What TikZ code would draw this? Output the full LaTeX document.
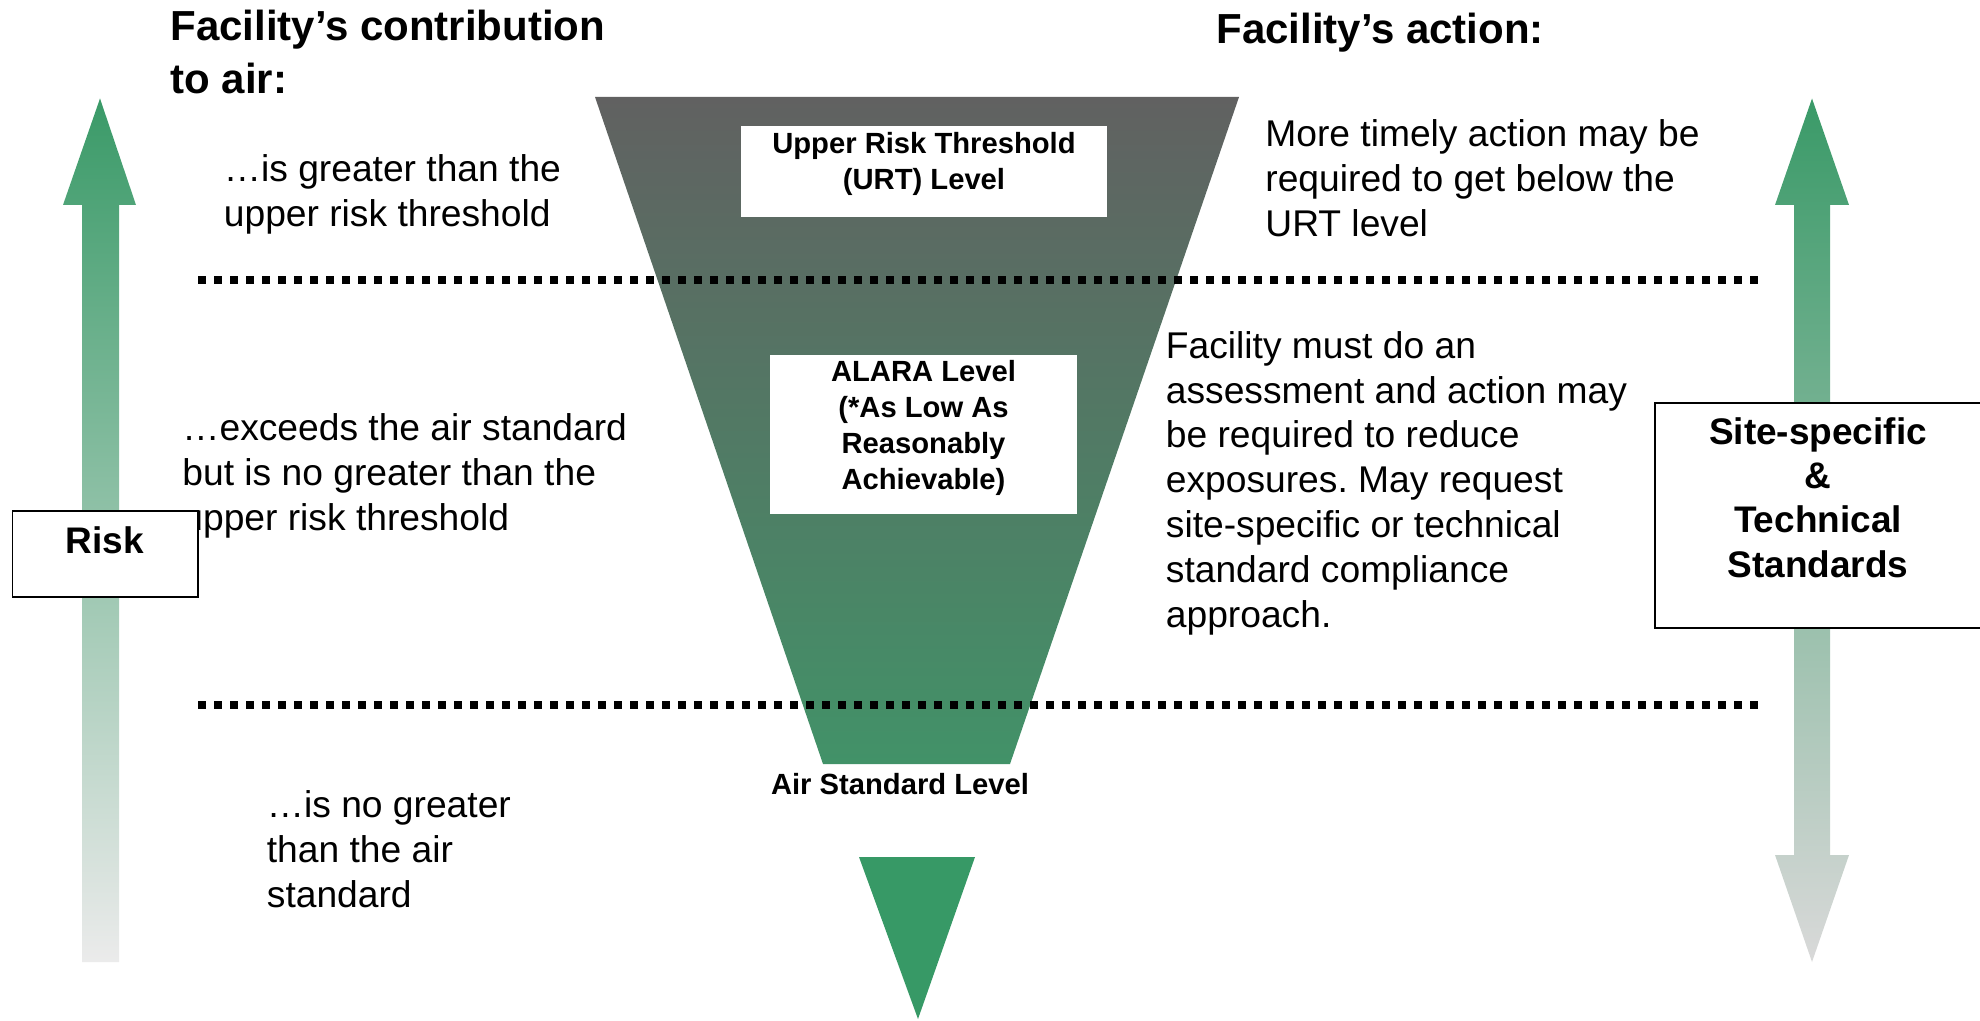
\documentclass[tikz,border=0pt]{standalone}
\usepackage{fontspec}
\setmainfont{Liberation Sans}
\usepackage{tikz}
\frenchspacing

\definecolor{riskgreen}{RGB}{58,154,104}
\definecolor{funneltop}{RGB}{97,97,97}
\definecolor{funnelbot}{RGB}{66,146,104}
\definecolor{fadegray}{RGB}{235,235,235}
\definecolor{stdgray}{RGB}{217,217,217}
\definecolor{tipgreen}{RGB}{55,153,102}

\tikzset{
  headtext/.style={font=\bfseries\fontsize{21}{26.5}\selectfont, align=left, anchor=west, inner sep=0pt},
  bodytext/.style={font=\fontsize{18.6}{22.4}\selectfont, align=left, anchor=west, inner sep=0pt},
  lvltext/.style={font=\bfseries\fontsize{14.6}{17.9}\selectfont, align=center, inner sep=0pt},
  sidetext/.style={font=\bfseries\fontsize{18.5}{22.2}\selectfont, align=center, inner sep=0pt},
  whitebox/.style={fill=white, inner sep=0pt},
  framebox/.style={whitebox, draw=black, line width=0.8pt},
  dotline/.style={line width=3.7pt, dash pattern=on 4pt off 4pt}
}

\begin{document}
\begin{tikzpicture}[x=0.5pt, y=-0.5pt]
\useasboundingbox (0,0) rectangle (1980,1021);

% risk arrow (left) and standards arrow (right)
\shade[top color=riskgreen, bottom color=fadegray]
  (100,98.5) -- (136,205) -- (119,205) -- (119,962) -- (82,962) -- (82,205) -- (63,205) -- cycle;
\shade[top color=riskgreen, bottom color=stdgray]
  (1812,98.5) -- (1849,205) -- (1830,205) -- (1830,855) -- (1849,855) -- (1812,962)
  -- (1775,855) -- (1794,855) -- (1794,205) -- (1775,205) -- cycle;

% funnel
\shade[top color=funneltop, bottom color=funnelbot]
  (595,97) -- (1239,97) -- (1010,764) -- (823,764) -- cycle;
\fill[tipgreen] (859,857) -- (975,857) -- (918,1019) -- cycle;

% level lines
\draw[dotline] (198,280) -- (1765,280);
\draw[dotline] (198,705) -- (1765,705);

% headings
\node[headtext] (contrib) at (170,51.5) {Facility’s contribution\\to air:};
\node[headtext] (action) at (1216,33) {Facility’s action:};

% left column
\node[bodytext] (above) at (223.5,194) {…is greater than the\\upper risk threshold};
\node[bodytext] (between) at (182,476) {…exceeds the air standard\\but is no greater than the\\upper risk threshold};
\node[bodytext] (below) at (266.5,849) {…is no greater\\than the air\\standard};

% right column
\node[bodytext] (timely) at (1265,178) {More timely action may be\\required to get below the\\URT level};
\node[bodytext] (assess) at (1165.5,483) {Facility must do an\\assessment and action may\\be required to reduce\\exposures. May request\\site-specific or technical\\standard compliance\\approach.};

% level boxes
\node[whitebox, minimum width=183pt, minimum height=45.5pt] (urtbox) at (924,171.5) {};
\node[lvltext] (urt) at (924,164) {Upper Risk Threshold\\(URT) Level};
\node[whitebox, minimum width=153.5pt, minimum height=79.5pt] (alarabox) at (923.5,434.5) {};
\node[lvltext] (alara) at (923.5,428) {ALARA Level\\(*As Low As\\Reasonably\\Achievable)};
\node[lvltext] (airstd) at (900,784) {Air Standard Level};

% side boxes
\node[framebox, minimum width=92.7pt, minimum height=43pt] (riskbox) at (105.3,554) {};
\node[sidetext] (risk) at (105,540) {Risk};
\node[framebox, minimum width=167.5pt, minimum height=112.5pt] (stdbox) at (1822.5,515.5) {};
\node[sidetext] (std) at (1818,497.5) {Site-specific\\\&\\Technical\\Standards};
\end{tikzpicture}
\end{document}
